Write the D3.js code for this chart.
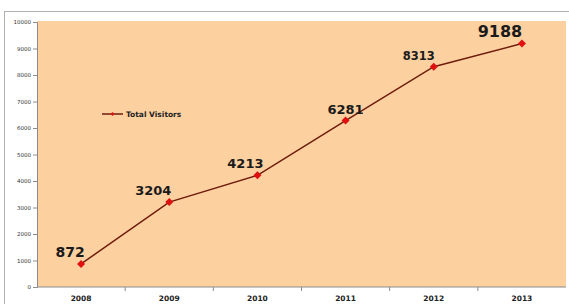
<!DOCTYPE html>
<html>
<head>
<meta charset="utf-8">
<script src="https://cdn.jsdelivr.net/npm/d3@7"></script>
<style>
  body { margin: 0; background: #fff; }
  svg { display: block; }
</style>
</head>
<body>
<svg id="chart" width="569" height="304"></svg>
<script>
// Data
var years = ['2008', '2009', '2010', '2011', '2012', '2013'];
var visitors = [872, 3204, 4213, 6281, 8313, 9188];
var yTicks = [0, 1000, 2000, 3000, 4000, 5000, 6000, 7000, 8000, 9000, 10000];
var seriesName = 'Total Visitors';

// Label styling (font size, horizontal nudge) per point
var labelSize = [14, 13, 13, 13, 11.5, 16];
var labelDx = [-11, -16, -12, 0, -15, -22];

var svg = d3.select('#chart');

// Outer chart frame
svg.append('rect')
    .attr('x', 4.5).attr('y', 11.5)
    .attr('width', 580).attr('height', 300)
    .attr('fill', '#fff')
    .attr('stroke', '#b0b0b0');

var plotLeft = 37, plotRight = 566, plotTop = 21, plotBottom = 287;

var x = d3.scaleBand()
    .domain(years)
    .range([plotLeft, plotRight]);
var y = d3.scaleLinear()
    .domain([0, 10000])
    .range([plotBottom, plotTop + 1]);

// Plot area
svg.append('rect')
    .attr('x', plotLeft).attr('y', plotTop)
    .attr('width', plotRight - plotLeft).attr('height', plotBottom - plotTop)
    .attr('fill', '#fdd0a0');

// Y axis
var yAxis = svg.append('g')
    .attr('transform', 'translate(' + plotLeft + ',0)')
    .call(d3.axisLeft(y).tickValues(yTicks).tickSize(4).tickPadding(2).tickFormat(d3.format('d')));
yAxis.select('.domain').attr('stroke', '#8c8c8c');
yAxis.selectAll('.tick line').attr('stroke', '#8c8c8c');
yAxis.selectAll('text')
    .attr('font-family', 'Verdana, "DejaVu Sans", sans-serif')
    .attr('font-size', 5.5)
    .attr('fill', '#333');

// X axis: ticks between categories
var xAxis = svg.append('g')
    .attr('transform', 'translate(0,' + plotBottom + ')');
xAxis.append('line')
    .attr('x1', plotLeft).attr('x2', plotRight)
    .attr('stroke', '#8c8c8c');
xAxis.selectAll('.sep')
    .data(years.slice(1))
    .enter().append('line')
    .attr('class', 'sep')
    .attr('x1', function(d) { return x(d); })
    .attr('x2', function(d) { return x(d); })
    .attr('y1', 0).attr('y2', 4)
    .attr('stroke', '#8c8c8c');
xAxis.selectAll('text')
    .data(years)
    .enter().append('text')
    .attr('x', function(d) { return x(d) + x.bandwidth() / 2; })
    .attr('y', 14)
    .attr('text-anchor', 'middle')
    .attr('font-family', 'Verdana, "DejaVu Sans", sans-serif')
    .attr('font-weight', 'bold')
    .attr('font-size', 7.5)
    .attr('fill', '#222')
    .text(function(d) { return d; });

// Line
var line = d3.line()
    .x(function(d, i) { return x(years[i]) + x.bandwidth() / 2; })
    .y(function(d) { return y(d); });

svg.append('path')
    .datum(visitors)
    .attr('d', line)
    .attr('fill', 'none')
    .attr('stroke', '#6e1d0c')
    .attr('stroke-width', 1.5);

// Square diamonds (rotated squares), like Excel markers
var marker = d3.symbol().type(d3.symbolSquare).size(32);

svg.selectAll('.marker')
    .data(visitors)
    .enter().append('path')
    .attr('class', 'marker')
    .attr('d', marker)
    .attr('transform', function(d, i) {
        return 'translate(' + (x(years[i]) + x.bandwidth() / 2) + ',' + y(d) + ') rotate(45)';
    })
    .attr('fill', '#e01010');

// Data labels
svg.selectAll('.vlabel')
    .data(visitors)
    .enter().append('text')
    .attr('class', 'vlabel')
    .attr('x', function(d, i) { return x(years[i]) + x.bandwidth() / 2 + labelDx[i]; })
    .attr('y', function(d) { return y(d) - 7; })
    .attr('text-anchor', 'middle')
    .attr('font-family', 'Verdana, "DejaVu Sans", sans-serif')
    .attr('font-weight', 'bold')
    .attr('font-size', function(d, i) { return labelSize[i]; })
    .attr('fill', '#1a1a1a')
    .text(function(d) { return d; });

// Legend
var legend = svg.append('g').attr('transform', 'translate(102,114)');
legend.append('line')
    .attr('x1', 0).attr('x2', 21)
    .attr('stroke', '#6e1d0c').attr('stroke-width', 1.5);
legend.append('path')
    .attr('d', d3.symbol().type(d3.symbolSquare).size(8))
    .attr('transform', 'translate(10.5,0) rotate(45)')
    .attr('fill', '#e01010');
legend.append('text')
    .attr('x', 24).attr('y', 3)
    .attr('font-family', 'Verdana, "DejaVu Sans", sans-serif')
    .attr('font-weight', 'bold')
    .attr('font-size', 7.5)
    .attr('fill', '#222')
    .text(seriesName);
</script>
</body>
</html>
